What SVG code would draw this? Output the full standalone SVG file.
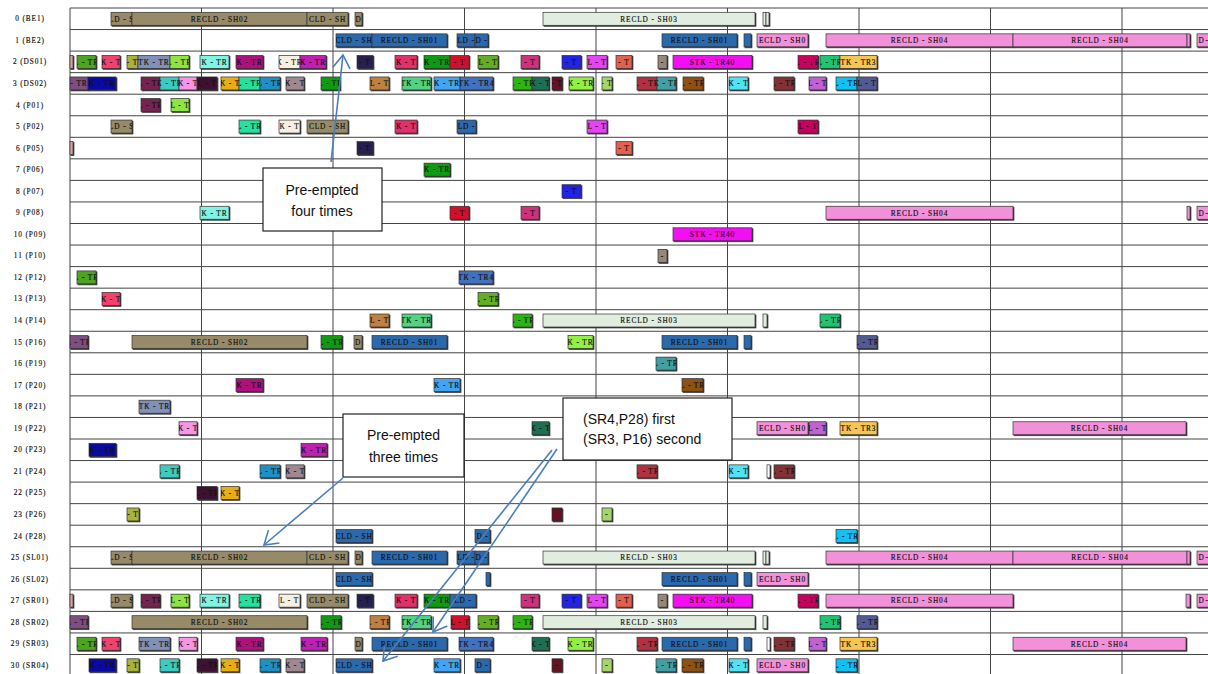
<svg xmlns="http://www.w3.org/2000/svg" width="1208" height="674" viewBox="0 0 1208 674">
<style>
.lbl{font:7.5px "Liberation Serif",serif;letter-spacing:.6px;fill:#111;text-anchor:middle}
.b rect{stroke:#333;stroke-width:.7;filter:drop-shadow(1px 1px 0 #3a3a3a)}
.b text{font:7.3px "Liberation Serif",serif;letter-spacing:.9px;text-anchor:middle;fill:#111;stroke:#111;stroke-width:.15}
.b text.e{text-anchor:start;letter-spacing:0}
.grid{stroke:#444;stroke-width:1;fill:none}
.note rect{fill:#fff;stroke:#222;stroke-width:1.2}
.note text{font:14px "Liberation Sans",Arial,sans-serif;fill:#111}
.arr{stroke:#4a7ebb;stroke-width:1.6;fill:none}
.tn{fill:#978a68}.bl{fill:#2b69ad}.mt{fill:#e0eddf}.pk{fill:#f390da}.wh{fill:#fff}
.p1{fill:#d9a3a6}.p2{fill:#4da41f}.p3{fill:#f2426c}.p4{fill:#a9b23a}.p5{fill:#8190b6}.p6{fill:#8fe540}.p7{fill:#80f4e2}.p8{fill:#ae107c}.p9{fill:#f7efe1}
.q0{fill:#c11fb3}.q1{fill:#25204f}.q2{fill:#e1306a}.q3{fill:#0e9b11}.q4{fill:#d3102c}.q5{fill:#64ae24}.q6{fill:#cf317d}.q7{fill:#2323e4}.q8{fill:#e444f3}.q9{fill:#e3604f}
.r0{fill:#948878}.r1{fill:#f40ef2}.r2{fill:#c9005f}.r3{fill:#1ec472}.r4{fill:#f5c652}.r5{fill:#7e4e80}.r6{fill:#0a0aa0}.r7{fill:#74244f}.r8{fill:#3ecac0}.r9{fill:#f596e4}
.s0{fill:#3d1130}.s1{fill:#e6ae14}.s2{fill:#26e09f}.s3{fill:#1f8fc4}.s4{fill:#a08891}.s6{fill:#bf8040}.s7{fill:#52d282}.s8{fill:#42a4f2}.s9{fill:#4271c0}
.t0{fill:#2eb412}.t1{fill:#1f7052}.t2{fill:#621222}.t3{fill:#92f042}.t4{fill:#a4d46a}.t5{fill:#b03242}.t6{fill:#42a0a4}.t7{fill:#8f5112}.t8{fill:#52e2f2}.t9{fill:#803236}
.u0{fill:#c262d2}.u1{fill:#12c0f2}.u2{fill:#515a92}
</style>
<defs>
<marker id="ah" markerUnits="userSpaceOnUse" markerWidth="30" markerHeight="30" refX="0" refY="0" orient="auto" overflow="visible">
<path d="M-13,-8.5 L0,0 L-13,8.5" fill="none" stroke="#4a7ebb" stroke-width="1.6"/>
</marker>
</defs>
<rect width="1208" height="674" fill="#fff"/>
<path class="grid" d="M70 8H1208M70 29.55H1208M70 51.1H1208M70 72.65H1208M70 94.2H1208M70 115.75H1208M70 137.3H1208M70 158.85H1208M70 180.4H1208M70 201.95H1208M70 223.5H1208M70 245.05H1208M70 266.6H1208M70 288.15H1208M70 309.7H1208M70 331.25H1208M70 352.8H1208M70 374.35H1208M70 395.9H1208M70 417.45H1208M70 439H1208M70 460.55H1208M70 482.1H1208M70 503.65H1208M70 525.2H1208M70 546.75H1208M70 568.3H1208M70 589.85H1208M70 611.4H1208M70 632.95H1208M70 654.5H1208M70 8V674M201.5 8V674M333 8V674M464.5 8V674M596 8V674M727.5 8V674M859 8V674M990.5 8V674M1122 8V674"/>

<g id="row0" class="b" transform="translate(0,12.3)"><text class="lbl" x="30" y="9">0 (BE1)</text>
<rect x="111" width="21" height="13" class="tn"/><svg x="111" width="21"><text x="50%" y="9.3">LD - S</text></svg>
<rect x="132" width="175" height="13" class="tn"/><svg x="132" width="175"><text x="50%" y="9.3">RECLD - SH02</text></svg>
<rect x="307" width="41" height="13" class="tn"/><svg x="307" width="41"><text x="50%" y="9.3">CLD - SH</text></svg>
<rect x="355" width="7" height="13" class="tn"/><svg x="355" width="7"><text x="50%" y="9.3">D</text></svg>
<rect x="543" width="212" height="13" class="mt"/><svg x="543" width="212"><text x="50%" y="9.3">RECLD - SH03</text></svg>
<rect x="763" width="3" height="13" class="mt"/><rect x="766" width="3" height="13" class="mt"/>
</g>

<g id="row1" class="b" transform="translate(0,33.85)"><text class="lbl" x="30" y="9">1 (BE2)</text>
<rect x="336" width="36" height="13" class="bl"/><svg x="336" width="36"><text x="50%" y="9.3">CLD - SH</text></svg>
<rect x="372" width="75" height="13" class="bl"/><svg x="372" width="75"><text x="50%" y="9.3">RECLD - SH01</text></svg>
<rect x="457" width="18" height="13" class="bl"/><svg x="457" width="18"><text x="50%" y="9.3">LD -</text></svg>
<rect x="475" width="13" height="13" class="bl"/><svg x="475" width="13"><text x="50%" y="9.3">D -</text></svg>
<rect x="662" width="75" height="13" class="bl"/><svg x="662" width="75"><text x="50%" y="9.3">RECLD - SH01</text></svg>
<rect x="744" width="7" height="13" class="bl"/>
<rect x="757" width="51" height="13" class="pk"/><svg x="757" width="51"><text x="50%" y="9.3">ECLD - SH0</text></svg>
<rect x="826" width="187" height="13" class="pk"/><svg x="826" width="187"><text x="50%" y="9.3">RECLD - SH04</text></svg>
<rect x="1013" width="174" height="13" class="pk"/><svg x="1013" width="174"><text x="50%" y="9.3">RECLD - SH04</text></svg>
<rect x="1187" width="3" height="13" class="pk"/>
<rect x="1197" width="20" height="13" class="pk"/><svg x="1197" width="20"><text class="e" x="1.5" y="9.3">D -</text></svg>
</g>

<g id="row2" class="b" transform="translate(0,55.4)"><text class="lbl" x="30" y="9">2 (DS01)</text>
<rect x="70" width="3" height="13" class="p1"/>
<rect x="77" width="19" height="13" class="p2"/><svg x="77" width="19"><text x="50%" y="9.3">L - TR</text></svg>
<rect x="102" width="18" height="13" class="p3"/><svg x="102" width="18"><text x="50%" y="9.3">K - T</text></svg>
<rect x="127" width="11" height="13" class="p4"/><svg x="127" width="11"><text x="50%" y="9.3">- T</text></svg>
<rect x="138" width="32" height="13" class="p5"/><svg x="138" width="32"><text x="50%" y="9.3">TK - TR</text></svg>
<rect x="170" width="19" height="13" class="p6"/><svg x="170" width="19"><text x="50%" y="9.3">L - TR</text></svg>
<rect x="200" width="29" height="13" class="p7"/><svg x="200" width="29"><text x="50%" y="9.3">K - TR</text></svg>
<rect x="236" width="27" height="13" class="p8"/><svg x="236" width="27"><text x="50%" y="9.3">K - TR</text></svg>
<rect x="279" width="21" height="13" class="p9"/><svg x="279" width="21"><text x="50%" y="9.3">K - TR</text></svg>
<rect x="300" width="26" height="13" class="q0"/><svg x="300" width="26"><text x="50%" y="9.3">K - TR</text></svg>
<rect x="357" width="16" height="13" class="q1"/><svg x="357" width="16"><text x="50%" y="9.3">- T</text></svg>
<rect x="395" width="22" height="13" class="q2"/><svg x="395" width="22"><text x="50%" y="9.3">K - T</text></svg>
<rect x="424" width="26" height="13" class="q3"/><svg x="424" width="26"><text x="50%" y="9.3">K - TR</text></svg>
<rect x="450" width="19" height="13" class="q4"/><svg x="450" width="19"><text x="50%" y="9.3">- T</text></svg>
<rect x="478" width="20" height="13" class="q5"/><svg x="478" width="20"><text x="50%" y="9.3">L - T</text></svg>
<rect x="521" width="18" height="13" class="q6"/><svg x="521" width="18"><text x="50%" y="9.3">- T</text></svg>
<rect x="562" width="19" height="13" class="q7"/><svg x="562" width="19"><text x="50%" y="9.3">- T</text></svg>
<rect x="587" width="20" height="13" class="q8"/><svg x="587" width="20"><text x="50%" y="9.3">L - T</text></svg>
<rect x="616" width="16" height="13" class="q9"/><svg x="616" width="16"><text x="50%" y="9.3">- T</text></svg>
<rect x="658" width="9" height="13" class="r0"/><svg x="658" width="9"><text x="50%" y="9.3">-</text></svg>
<rect x="673" width="79" height="13" class="r1"/><svg x="673" width="79"><text x="50%" y="9.3">STK - TR40</text></svg>
<rect x="798" width="20" height="13" class="r2"/><svg x="798" width="20"><text x="50%" y="9.3">L - TR</text></svg>
<rect x="820" width="20" height="13" class="r3"/><svg x="820" width="20"><text x="50%" y="9.3">L - TR</text></svg>
<rect x="840" width="37" height="13" class="r4"/><svg x="840" width="37"><text x="50%" y="9.3">TK - TR3</text></svg>
</g>

<g id="row3" class="b" transform="translate(0,76.95)"><text class="lbl" x="30" y="9">3 (DS02)</text>
<rect x="70" width="18" height="13" class="r5"/><svg x="70" width="18"><text x="50%" y="9.3">- TR</text></svg>
<rect x="88" width="28" height="13" class="r6"/><svg x="88" width="28"><text x="50%" y="9.3">K - TR</text></svg>
<rect x="141" width="19" height="13" class="r7"/><svg x="141" width="19"><text x="50%" y="9.3">L - TR</text></svg>
<rect x="160" width="19" height="13" class="r8"/><svg x="160" width="19"><text x="50%" y="9.3">K - TR</text></svg>
<rect x="179" width="18" height="13" class="r9"/><svg x="179" width="18"><text x="50%" y="9.3">K - T</text></svg>
<rect x="197" width="20" height="13" class="s0"/><svg x="197" width="20"><text x="50%" y="9.3">L - T</text></svg>
<rect x="221" width="18" height="13" class="s1"/><svg x="221" width="18"><text x="50%" y="9.3">K - T</text></svg>
<rect x="239" width="21" height="13" class="s2"/><svg x="239" width="21"><text x="50%" y="9.3">L - TR</text></svg>
<rect x="260" width="20" height="13" class="s3"/><svg x="260" width="20"><text x="50%" y="9.3">L - TR</text></svg>
<rect x="286" width="18" height="13" class="s4"/><svg x="286" width="18"><text x="50%" y="9.3">K - T</text></svg>
<rect x="321" width="19" height="13" class="q3"/><svg x="321" width="19"><text x="50%" y="9.3">L - TR</text></svg>
<rect x="370" width="19" height="13" class="s6"/><svg x="370" width="19"><text x="50%" y="9.3">L - T</text></svg>
<rect x="402" width="29" height="13" class="s7"/><svg x="402" width="29"><text x="50%" y="9.3">TK - TR</text></svg>
<rect x="434" width="26" height="13" class="s8"/><svg x="434" width="26"><text x="50%" y="9.3">K - TR</text></svg>
<rect x="460" width="33" height="13" class="s9"/><svg x="460" width="33"><text x="50%" y="9.3">TK - TR4</text></svg>
<rect x="513" width="19" height="13" class="t0"/><svg x="513" width="19"><text x="50%" y="9.3">L - TR</text></svg>
<rect x="532" width="17" height="13" class="t1"/><svg x="532" width="17"><text x="50%" y="9.3">K - T</text></svg>
<rect x="552" width="10" height="13" class="t2"/><svg x="552" width="10"><text x="50%" y="9.3">- T</text></svg>
<rect x="569" width="24" height="13" class="t3"/><svg x="569" width="24"><text x="50%" y="9.3">K - TR</text></svg>
<rect x="602" width="10" height="13" class="t4"/><svg x="602" width="10"><text x="50%" y="9.3">- T</text></svg>
<rect x="637" width="20" height="13" class="t5"/><svg x="637" width="20"><text x="50%" y="9.3">L - TR</text></svg>
<rect x="657" width="19" height="13" class="t6"/><svg x="657" width="19"><text x="50%" y="9.3">K - TR</text></svg>
<rect x="683" width="20" height="13" class="t7"/><svg x="683" width="20"><text x="50%" y="9.3">L - TR</text></svg>
<rect x="729" width="19" height="13" class="t8"/><svg x="729" width="19"><text x="50%" y="9.3">K - T</text></svg>
<rect x="774" width="20" height="13" class="t9"/><svg x="774" width="20"><text x="50%" y="9.3">L - TR</text></svg>
<rect x="809" width="17" height="13" class="u0"/><svg x="809" width="17"><text x="50%" y="9.3">L - T</text></svg>
<rect x="836" width="21" height="13" class="u1"/><svg x="836" width="21"><text x="50%" y="9.3">L - TR</text></svg>
<rect x="857" width="20" height="13" class="u2"/><svg x="857" width="20"><text x="50%" y="9.3">L - T</text></svg>
</g>

<g id="row4" class="b" transform="translate(0,98.5)"><text class="lbl" x="30" y="9">4 (P01)</text>
<rect x="141" width="19" height="13" class="r7"/><svg x="141" width="19"><text x="50%" y="9.3">L - TR</text></svg>
<rect x="171" width="18" height="13" class="p6"/><svg x="171" width="18"><text x="50%" y="9.3">L - T</text></svg>
</g>

<g id="row5" class="b" transform="translate(0,120.05)"><text class="lbl" x="30" y="9">5 (P02)</text>
<rect x="111" width="21" height="13" class="tn"/><svg x="111" width="21"><text x="50%" y="9.3">LD - S</text></svg>
<rect x="239" width="21" height="13" class="s2"/><svg x="239" width="21"><text x="50%" y="9.3">L - TR</text></svg>
<rect x="279" width="21" height="13" class="p9"/><svg x="279" width="21"><text x="50%" y="9.3">K - T</text></svg>
<rect x="307" width="41" height="13" class="tn"/><svg x="307" width="41"><text x="50%" y="9.3">CLD - SH</text></svg>
<rect x="395" width="22" height="13" class="q2"/><svg x="395" width="22"><text x="50%" y="9.3">K - T</text></svg>
<rect x="457" width="19" height="13" class="bl"/><svg x="457" width="19"><text x="50%" y="9.3">LD -</text></svg>
<rect x="587" width="20" height="13" class="q8"/><svg x="587" width="20"><text x="50%" y="9.3">L - T</text></svg>
<rect x="798" width="20" height="13" class="r2"/><svg x="798" width="20"><text x="50%" y="9.3">L - T</text></svg>
</g>

<g id="row6" class="b" transform="translate(0,141.6)"><text class="lbl" x="30" y="9">6 (P05)</text>
<rect x="70" width="3" height="13" class="p1"/>
<rect x="357" width="16" height="13" class="q1"/><svg x="357" width="16"><text x="50%" y="9.3">- T</text></svg>
<rect x="616" width="16" height="13" class="q9"/><svg x="616" width="16"><text x="50%" y="9.3">- T</text></svg>
</g>

<g id="row7" class="b" transform="translate(0,163.15)"><text class="lbl" x="30" y="9">7 (P06)</text>
<rect x="424" width="26" height="13" class="q3"/><svg x="424" width="26"><text x="50%" y="9.3">K - TR</text></svg>
</g>

<g id="row8" class="b" transform="translate(0,184.7)"><text class="lbl" x="30" y="9">8 (P07)</text>
<rect x="562" width="19" height="13" class="q7"/><svg x="562" width="19"><text x="50%" y="9.3">- T</text></svg>
</g>

<g id="row9" class="b" transform="translate(0,206.25)"><text class="lbl" x="30" y="9">9 (P08)</text>
<rect x="200" width="29" height="13" class="p7"/><svg x="200" width="29"><text x="50%" y="9.3">K - TR</text></svg>
<rect x="450" width="19" height="13" class="q4"/><svg x="450" width="19"><text x="50%" y="9.3">- T</text></svg>
<rect x="521" width="18" height="13" class="q6"/><svg x="521" width="18"><text x="50%" y="9.3">- T</text></svg>
<rect x="826" width="187" height="13" class="pk"/><svg x="826" width="187"><text x="50%" y="9.3">RECLD - SH04</text></svg>
<rect x="1187" width="3" height="13" class="pk"/>
<rect x="1197" width="20" height="13" class="pk"/><svg x="1197" width="20"><text class="e" x="1.5" y="9.3">D -</text></svg>
</g>

<g id="row10" class="b" transform="translate(0,227.8)"><text class="lbl" x="30" y="9">10 (P09)</text>
<rect x="673" width="79" height="13" class="r1"/><svg x="673" width="79"><text x="50%" y="9.3">STK - TR40</text></svg>
</g>

<g id="row11" class="b" transform="translate(0,249.35)"><text class="lbl" x="30" y="9">11 (P10)</text>
<rect x="658" width="9" height="13" class="r0"/><svg x="658" width="9"><text x="50%" y="9.3">-</text></svg>
</g>

<g id="row12" class="b" transform="translate(0,270.9)"><text class="lbl" x="30" y="9">12 (P12)</text>
<rect x="77" width="19" height="13" class="p2"/><svg x="77" width="19"><text x="50%" y="9.3">L - TR</text></svg>
<rect x="459" width="34" height="13" class="s9"/><svg x="459" width="34"><text x="50%" y="9.3">TK - TR4</text></svg>
</g>

<g id="row13" class="b" transform="translate(0,292.45)"><text class="lbl" x="30" y="9">13 (P13)</text>
<rect x="102" width="18" height="13" class="p3"/><svg x="102" width="18"><text x="50%" y="9.3">K - T</text></svg>
<rect x="478" width="20" height="13" class="q5"/><svg x="478" width="20"><text x="50%" y="9.3">L - TR</text></svg>
</g>

<g id="row14" class="b" transform="translate(0,314)"><text class="lbl" x="30" y="9">14 (P14)</text>
<rect x="370" width="19" height="13" class="s6"/><svg x="370" width="19"><text x="50%" y="9.3">L - T</text></svg>
<rect x="402" width="29" height="13" class="s7"/><svg x="402" width="29"><text x="50%" y="9.3">TK - TR</text></svg>
<rect x="513" width="19" height="13" class="t0"/><svg x="513" width="19"><text x="50%" y="9.3">L - TR</text></svg>
<rect x="543" width="212" height="13" class="mt"/><svg x="543" width="212"><text x="50%" y="9.3">RECLD - SH03</text></svg>
<rect x="763" width="4" height="13" class="mt"/>
<rect x="820" width="20" height="13" class="r3"/><svg x="820" width="20"><text x="50%" y="9.3">L - TR</text></svg>
</g>

<g id="row15" class="b" transform="translate(0,335.55)"><text class="lbl" x="30" y="9">15 (P16)</text>
<rect x="70" width="18" height="13" class="r5"/><svg x="70" width="18"><text x="50%" y="9.3">L - TR</text></svg>
<rect x="132" width="175" height="13" class="tn"/><svg x="132" width="175"><text x="50%" y="9.3">RECLD - SH02</text></svg>
<rect x="321" width="21" height="13" class="q3"/><svg x="321" width="21"><text x="50%" y="9.3">L - TR</text></svg>
<rect x="354" width="8" height="13" class="tn"/><svg x="354" width="8"><text x="50%" y="9.3">D</text></svg>
<rect x="372" width="75" height="13" class="bl"/><svg x="372" width="75"><text x="50%" y="9.3">RECLD - SH01</text></svg>
<rect x="568" width="25" height="13" class="t3"/><svg x="568" width="25"><text x="50%" y="9.3">K - TR</text></svg>
<rect x="662" width="75" height="13" class="bl"/><svg x="662" width="75"><text x="50%" y="9.3">RECLD - SH01</text></svg>
<rect x="744" width="7" height="13" class="bl"/>
<rect x="857" width="20" height="13" class="u2"/><svg x="857" width="20"><text x="50%" y="9.3">L - TR</text></svg>
</g>

<g id="row16" class="b" transform="translate(0,357.1)"><text class="lbl" x="30" y="9">16 (P19)</text>
<rect x="656" width="20" height="13" class="t6"/><svg x="656" width="20"><text x="50%" y="9.3">L - TR</text></svg>
</g>

<g id="row17" class="b" transform="translate(0,378.65)"><text class="lbl" x="30" y="9">17 (P20)</text>
<rect x="236" width="27" height="13" class="p8"/><svg x="236" width="27"><text x="50%" y="9.3">K - TR</text></svg>
<rect x="434" width="26" height="13" class="s8"/><svg x="434" width="26"><text x="50%" y="9.3">K - TR</text></svg>
<rect x="682" width="21" height="13" class="t7"/><svg x="682" width="21"><text x="50%" y="9.3">L - TR</text></svg>
</g>

<g id="row18" class="b" transform="translate(0,400.2)"><text class="lbl" x="30" y="9">18 (P21)</text>
<rect x="139" width="31" height="13" class="p5"/><svg x="139" width="31"><text x="50%" y="9.3">TK - TR</text></svg>
</g>

<g id="row19" class="b" transform="translate(0,421.75)"><text class="lbl" x="30" y="9">19 (P22)</text>
<rect x="179" width="18" height="13" class="r9"/><svg x="179" width="18"><text x="50%" y="9.3">K - T</text></svg>
<rect x="532" width="17" height="13" class="t1"/><svg x="532" width="17"><text x="50%" y="9.3">K - T</text></svg>
<rect x="757" width="51" height="13" class="pk"/><svg x="757" width="51"><text x="50%" y="9.3">ECLD - SH0</text></svg>
<rect x="809" width="17" height="13" class="u0"/><svg x="809" width="17"><text x="50%" y="9.3">L - T</text></svg>
<rect x="840" width="37" height="13" class="r4"/><svg x="840" width="37"><text x="50%" y="9.3">TK - TR3</text></svg>
<rect x="1013" width="173" height="13" class="pk"/><svg x="1013" width="173"><text x="50%" y="9.3">RECLD - SH04</text></svg>
</g>

<g id="row20" class="b" transform="translate(0,443.3)"><text class="lbl" x="30" y="9">20 (P23)</text>
<rect x="89" width="27" height="13" class="r6"/><svg x="89" width="27"><text x="50%" y="9.3">K - TR</text></svg>
<rect x="301" width="26" height="13" class="q0"/><svg x="301" width="26"><text x="50%" y="9.3">K - TR</text></svg>
</g>

<g id="row21" class="b" transform="translate(0,464.85)"><text class="lbl" x="30" y="9">21 (P24)</text>
<rect x="160" width="19" height="13" class="r8"/><svg x="160" width="19"><text x="50%" y="9.3">L - TR</text></svg>
<rect x="260" width="20" height="13" class="s3"/><svg x="260" width="20"><text x="50%" y="9.3">L - TR</text></svg>
<rect x="286" width="18" height="13" class="s4"/><svg x="286" width="18"><text x="50%" y="9.3">K - T</text></svg>
<rect x="637" width="20" height="13" class="t5"/><svg x="637" width="20"><text x="50%" y="9.3">L - TR</text></svg>
<rect x="729" width="19" height="13" class="t8"/><svg x="729" width="19"><text x="50%" y="9.3">K - T</text></svg>
<rect x="767" width="3" height="13" class="wh"/>
<rect x="774" width="20" height="13" class="t9"/><svg x="774" width="20"><text x="50%" y="9.3">L - TR</text></svg>
</g>

<g id="row22" class="b" transform="translate(0,486.4)"><text class="lbl" x="30" y="9">22 (P25)</text>
<rect x="197" width="20" height="13" class="s0"/><svg x="197" width="20"><text x="50%" y="9.3">L - TR</text></svg>
<rect x="221" width="18" height="13" class="s1"/><svg x="221" width="18"><text x="50%" y="9.3">K - T</text></svg>
</g>

<g id="row23" class="b" transform="translate(0,507.95)"><text class="lbl" x="30" y="9">23 (P26)</text>
<rect x="127" width="12" height="13" class="p4"/><svg x="127" width="12"><text x="50%" y="9.3">- T</text></svg>
<rect x="552" width="10" height="13" class="t2"/>
<rect x="602" width="10" height="13" class="t4"/><svg x="602" width="10"><text x="50%" y="9.3">-</text></svg>
</g>

<g id="row24" class="b" transform="translate(0,529.5)"><text class="lbl" x="30" y="9">24 (P28)</text>
<rect x="336" width="36" height="13" class="bl"/><svg x="336" width="36"><text x="50%" y="9.3">CLD - SH</text></svg>
<rect x="475" width="15" height="13" class="bl"/><svg x="475" width="15"><text x="50%" y="9.3">D -</text></svg>
<rect x="836" width="21" height="13" class="u1"/><svg x="836" width="21"><text x="50%" y="9.3">L - TR</text></svg>
</g>

<g id="row25" class="b" transform="translate(0,551.05)"><text class="lbl" x="30" y="9">25 (SL01)</text>
<rect x="111" width="21" height="13" class="tn"/><svg x="111" width="21"><text x="50%" y="9.3">LD - S</text></svg>
<rect x="132" width="175" height="13" class="tn"/><svg x="132" width="175"><text x="50%" y="9.3">RECLD - SH02</text></svg>
<rect x="307" width="41" height="13" class="tn"/><svg x="307" width="41"><text x="50%" y="9.3">CLD - SH</text></svg>
<rect x="355" width="7" height="13" class="tn"/><svg x="355" width="7"><text x="50%" y="9.3">D</text></svg>
<rect x="372" width="75" height="13" class="bl"/><svg x="372" width="75"><text x="50%" y="9.3">RECLD - SH01</text></svg>
<rect x="457" width="18" height="13" class="bl"/><svg x="457" width="18"><text x="50%" y="9.3">LD -</text></svg>
<rect x="475" width="13" height="13" class="bl"/><svg x="475" width="13"><text x="50%" y="9.3">D -</text></svg>
<rect x="543" width="212" height="13" class="mt"/><svg x="543" width="212"><text x="50%" y="9.3">RECLD - SH03</text></svg>
<rect x="763" width="3" height="13" class="mt"/><rect x="766" width="3" height="13" class="mt"/>
<rect x="826" width="187" height="13" class="pk"/><svg x="826" width="187"><text x="50%" y="9.3">RECLD - SH04</text></svg>
<rect x="1013" width="174" height="13" class="pk"/><svg x="1013" width="174"><text x="50%" y="9.3">RECLD - SH04</text></svg>
<rect x="1187" width="3" height="13" class="pk"/>
<rect x="1197" width="20" height="13" class="pk"/><svg x="1197" width="20"><text class="e" x="1.5" y="9.3">D -</text></svg>
</g>

<g id="row26" class="b" transform="translate(0,572.6)"><text class="lbl" x="30" y="9">26 (SL02)</text>
<rect x="336" width="36" height="13" class="bl"/><svg x="336" width="36"><text x="50%" y="9.3">CLD - SH</text></svg>
<rect x="486" width="4" height="13" class="bl"/>
<rect x="662" width="75" height="13" class="bl"/><svg x="662" width="75"><text x="50%" y="9.3">RECLD - SH01</text></svg>
<rect x="744" width="7" height="13" class="bl"/>
<rect x="757" width="51" height="13" class="pk"/><svg x="757" width="51"><text x="50%" y="9.3">ECLD - SH0</text></svg>
</g>

<g id="row27" class="b" transform="translate(0,594.15)"><text class="lbl" x="30" y="9">27 (SR01)</text>
<rect x="70" width="3" height="13" class="p1"/>
<rect x="111" width="21" height="13" class="tn"/><svg x="111" width="21"><text x="50%" y="9.3">LD - S</text></svg>
<rect x="141" width="19" height="13" class="r7"/><svg x="141" width="19"><text x="50%" y="9.3">L - TR</text></svg>
<rect x="171" width="18" height="13" class="p6"/><svg x="171" width="18"><text x="50%" y="9.3">L - T</text></svg>
<rect x="200" width="29" height="13" class="p7"/><svg x="200" width="29"><text x="50%" y="9.3">K - TR</text></svg>
<rect x="239" width="21" height="13" class="s2"/><svg x="239" width="21"><text x="50%" y="9.3">L - TR</text></svg>
<rect x="279" width="21" height="13" class="p9"/><svg x="279" width="21"><text x="50%" y="9.3">L - T</text></svg>
<rect x="307" width="41" height="13" class="tn"/><svg x="307" width="41"><text x="50%" y="9.3">CLD - SH</text></svg>
<rect x="357" width="16" height="13" class="q1"/><svg x="357" width="16"><text x="50%" y="9.3">- T</text></svg>
<rect x="395" width="22" height="13" class="q2"/><svg x="395" width="22"><text x="50%" y="9.3">K - T</text></svg>
<rect x="424" width="26" height="13" class="q3"/><svg x="424" width="26"><text x="50%" y="9.3">K - TR</text></svg>
<rect x="450" width="26" height="13" class="bl"/><svg x="450" width="26"><text x="50%" y="9.3">LD -</text></svg>
<rect x="521" width="18" height="13" class="q6"/><svg x="521" width="18"><text x="50%" y="9.3">- T</text></svg>
<rect x="562" width="19" height="13" class="q7"/><svg x="562" width="19"><text x="50%" y="9.3">- T</text></svg>
<rect x="587" width="20" height="13" class="q8"/><svg x="587" width="20"><text x="50%" y="9.3">L - T</text></svg>
<rect x="616" width="16" height="13" class="q9"/><svg x="616" width="16"><text x="50%" y="9.3">- T</text></svg>
<rect x="658" width="9" height="13" class="r0"/><svg x="658" width="9"><text x="50%" y="9.3">-</text></svg>
<rect x="673" width="79" height="13" class="r1"/><svg x="673" width="79"><text x="50%" y="9.3">STK - TR40</text></svg>
<rect x="798" width="20" height="13" class="r2"/><svg x="798" width="20"><text x="50%" y="9.3">L - TR</text></svg>
<rect x="826" width="187" height="13" class="pk"/><svg x="826" width="187"><text x="50%" y="9.3">RECLD - SH04</text></svg>
<rect x="1186" width="4" height="13" class="pk"/>
<rect x="1197" width="20" height="13" class="pk"/><svg x="1197" width="20"><text class="e" x="1.5" y="9.3">D -</text></svg>
</g>

<g id="row28" class="b" transform="translate(0,615.7)"><text class="lbl" x="30" y="9">28 (SR02)</text>
<rect x="70" width="18" height="13" class="r5"/><svg x="70" width="18"><text x="50%" y="9.3">L - TR</text></svg>
<rect x="132" width="175" height="13" class="tn"/><svg x="132" width="175"><text x="50%" y="9.3">RECLD - SH02</text></svg>
<rect x="321" width="20" height="13" class="q3"/><svg x="321" width="20"><text x="50%" y="9.3">L - TR</text></svg>
<rect x="370" width="19" height="13" class="s6"/><svg x="370" width="19"><text x="50%" y="9.3">L - TR</text></svg>
<rect x="402" width="29" height="13" class="s7"/><svg x="402" width="29"><text x="50%" y="9.3">TK - TR</text></svg>
<rect x="451" width="18" height="13" class="q4"/><svg x="451" width="18"><text x="50%" y="9.3">L - T</text></svg>
<rect x="478" width="20" height="13" class="q5"/><svg x="478" width="20"><text x="50%" y="9.3">L - TR</text></svg>
<rect x="513" width="19" height="13" class="t0"/><svg x="513" width="19"><text x="50%" y="9.3">L - TR</text></svg>
<rect x="543" width="212" height="13" class="mt"/><svg x="543" width="212"><text x="50%" y="9.3">RECLD - SH03</text></svg>
<rect x="763" width="4" height="13" class="mt"/>
<rect x="820" width="20" height="13" class="r3"/><svg x="820" width="20"><text x="50%" y="9.3">L - TR</text></svg>
<rect x="857" width="20" height="13" class="u2"/><svg x="857" width="20"><text x="50%" y="9.3">L - TR</text></svg>
</g>

<g id="row29" class="b" transform="translate(0,637.25)"><text class="lbl" x="30" y="9">29 (SR03)</text>
<rect x="77" width="19" height="13" class="p2"/><svg x="77" width="19"><text x="50%" y="9.3">L - TR</text></svg>
<rect x="102" width="18" height="13" class="p3"/><svg x="102" width="18"><text x="50%" y="9.3">K - T</text></svg>
<rect x="139" width="31" height="13" class="p5"/><svg x="139" width="31"><text x="50%" y="9.3">TK - TR</text></svg>
<rect x="179" width="18" height="13" class="r9"/><svg x="179" width="18"><text x="50%" y="9.3">K - T</text></svg>
<rect x="236" width="27" height="13" class="p8"/><svg x="236" width="27"><text x="50%" y="9.3">K - TR</text></svg>
<rect x="301" width="26" height="13" class="q0"/><svg x="301" width="26"><text x="50%" y="9.3">K - TR</text></svg>
<rect x="355" width="7" height="13" class="tn"/><svg x="355" width="7"><text x="50%" y="9.3">D</text></svg>
<rect x="372" width="75" height="13" class="bl"/><svg x="372" width="75"><text x="50%" y="9.3">RECLD - SH01</text></svg>
<rect x="459" width="34" height="13" class="s9"/><svg x="459" width="34"><text x="50%" y="9.3">TK - TR4</text></svg>
<rect x="532" width="17" height="13" class="t1"/><svg x="532" width="17"><text x="50%" y="9.3">K - T</text></svg>
<rect x="568" width="25" height="13" class="t3"/><svg x="568" width="25"><text x="50%" y="9.3">K - TR</text></svg>
<rect x="637" width="20" height="13" class="t5"/><svg x="637" width="20"><text x="50%" y="9.3">L - TR</text></svg>
<rect x="662" width="75" height="13" class="bl"/><svg x="662" width="75"><text x="50%" y="9.3">RECLD - SH01</text></svg>
<rect x="744" width="7" height="13" class="bl"/>
<rect x="767" width="3" height="13" class="wh"/>
<rect x="774" width="20" height="13" class="t9"/><svg x="774" width="20"><text x="50%" y="9.3">L - TR</text></svg>
<rect x="809" width="17" height="13" class="u0"/><svg x="809" width="17"><text x="50%" y="9.3">L - T</text></svg>
<rect x="840" width="37" height="13" class="r4"/><svg x="840" width="37"><text x="50%" y="9.3">TK - TR3</text></svg>
<rect x="1013" width="173" height="13" class="pk"/><svg x="1013" width="173"><text x="50%" y="9.3">RECLD - SH04</text></svg>
</g>

<g id="row30" class="b" transform="translate(0,658.8)"><text class="lbl" x="30" y="9">30 (SR04)</text>
<rect x="89" width="27" height="13" class="r6"/><svg x="89" width="27"><text x="50%" y="9.3">K - TR</text></svg>
<rect x="127" width="12" height="13" class="p4"/><svg x="127" width="12"><text x="50%" y="9.3">- T</text></svg>
<rect x="160" width="19" height="13" class="r8"/><svg x="160" width="19"><text x="50%" y="9.3">L - TR</text></svg>
<rect x="197" width="20" height="13" class="s0"/><svg x="197" width="20"><text x="50%" y="9.3">L - TR</text></svg>
<rect x="221" width="18" height="13" class="s1"/><svg x="221" width="18"><text x="50%" y="9.3">K - T</text></svg>
<rect x="260" width="20" height="13" class="s3"/><svg x="260" width="20"><text x="50%" y="9.3">L - TR</text></svg>
<rect x="286" width="18" height="13" class="s4"/><svg x="286" width="18"><text x="50%" y="9.3">K - T</text></svg>
<rect x="336" width="36" height="13" class="bl"/><svg x="336" width="36"><text x="50%" y="9.3">CLD - SH</text></svg>
<rect x="434" width="26" height="13" class="s8"/><svg x="434" width="26"><text x="50%" y="9.3">K - TR</text></svg>
<rect x="475" width="15" height="13" class="bl"/><svg x="475" width="15"><text x="50%" y="9.3">D -</text></svg>
<rect x="552" width="10" height="13" class="t2"/><svg x="552" width="10"><text x="50%" y="9.3">-</text></svg>
<rect x="602" width="10" height="13" class="t4"/><svg x="602" width="10"><text x="50%" y="9.3">-</text></svg>
<rect x="656" width="20" height="13" class="t6"/><svg x="656" width="20"><text x="50%" y="9.3">L - TR</text></svg>
<rect x="682" width="21" height="13" class="t7"/><svg x="682" width="21"><text x="50%" y="9.3">L - TR</text></svg>
<rect x="729" width="19" height="13" class="t8"/><svg x="729" width="19"><text x="50%" y="9.3">K - T</text></svg>
<rect x="757" width="51" height="13" class="pk"/><svg x="757" width="51"><text x="50%" y="9.3">ECLD - SH0</text></svg>
<rect x="836" width="21" height="13" class="u1"/><svg x="836" width="21"><text x="50%" y="9.3">L - TR</text></svg>
</g>

<g id="note-four" class="note"><rect x="263" y="168" width="119" height="63"/><text x="322" y="195" text-anchor="middle">Pre-empted</text><text x="322" y="216" text-anchor="middle">four times</text></g>
<g id="note-three" class="note"><rect x="343" y="414" width="121" height="63"/><text x="403.5" y="440" text-anchor="middle">Pre-empted</text><text x="403.5" y="462" text-anchor="middle">three times</text></g>
<g id="note-order" class="note"><rect x="563" y="398" width="169" height="62"/><text x="583" y="424">(SR4,P28) first</text><text x="583" y="444">(SR3, P16) second</text></g>

<g id="connectors" class="arr">
<path d="M331 162L343 55" marker-end="url(#ah)"/>
<path d="M343 478L264 545" marker-end="url(#ah)"/>
<path d="M557 449L433 632" marker-end="url(#ah)"/>
<path d="M552 450L383 661" marker-end="url(#ah)"/>
</g>
</svg>
